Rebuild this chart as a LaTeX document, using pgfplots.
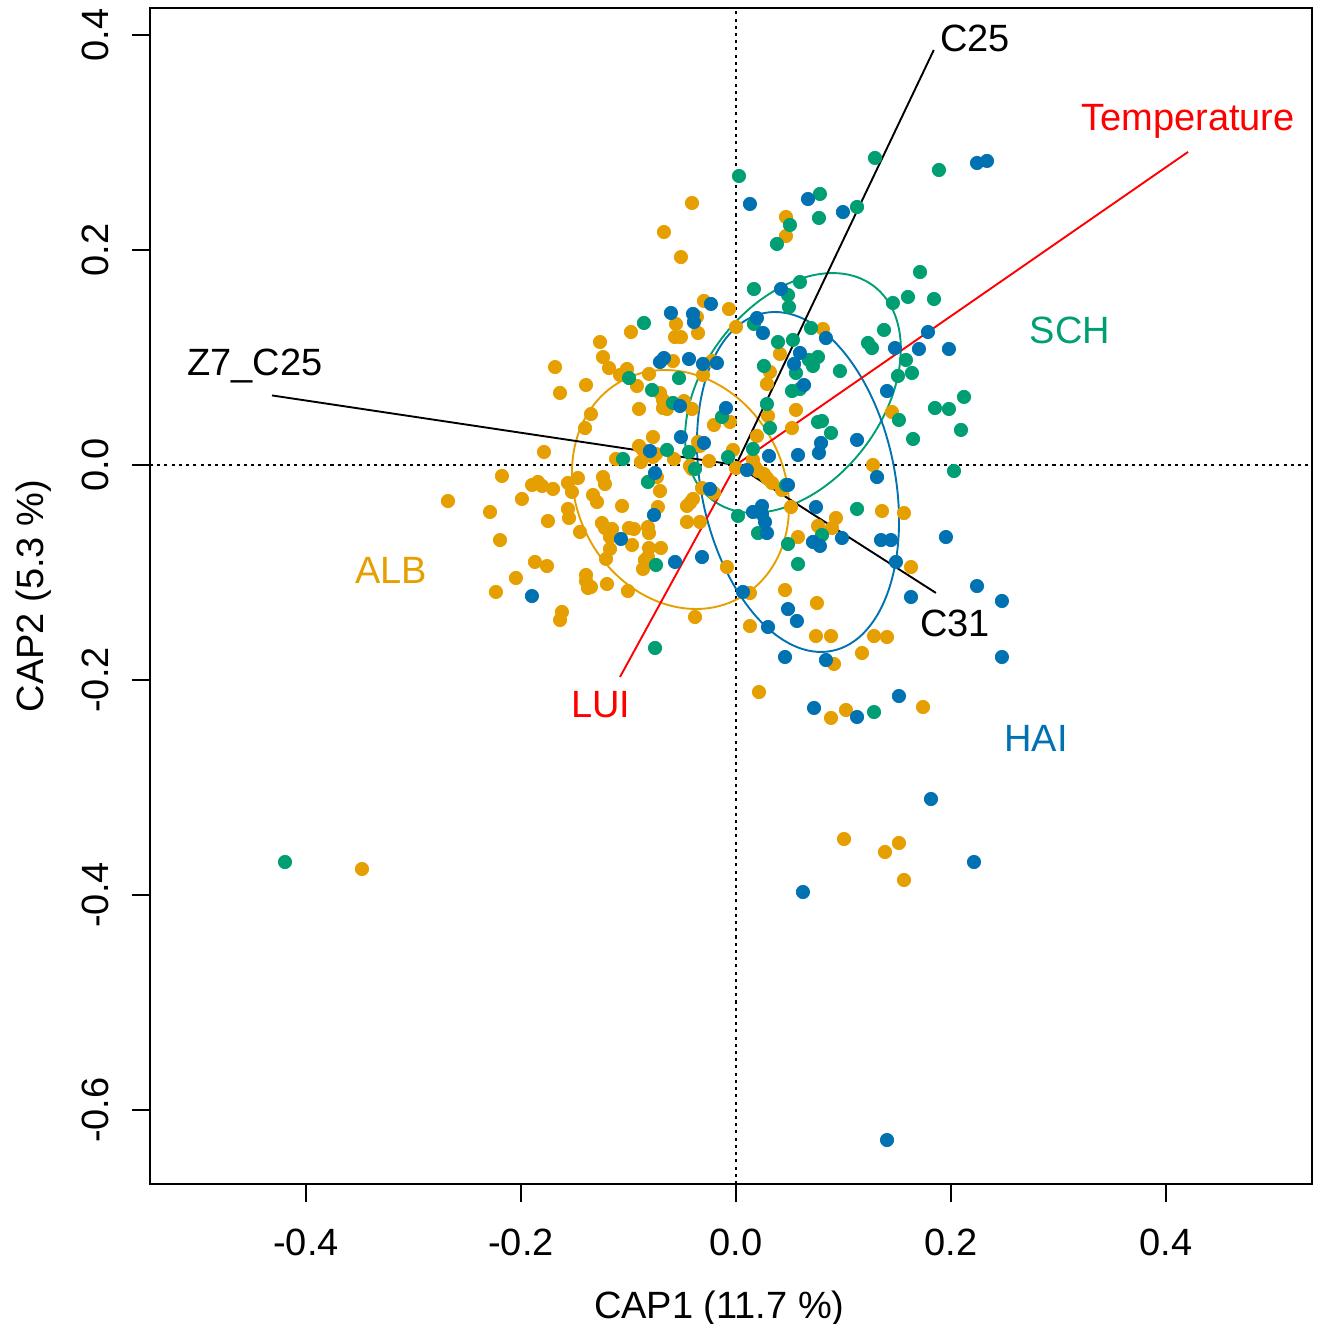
\documentclass[border=0pt]{standalone}
\usepackage{fontspec}
\setmainfont{Liberation Sans}
\usepackage{pgfplots}
\usepackage{pgfplotstable}
\pgfplotsset{compat=1.18}
\definecolor{alb}{HTML}{E69F00}
\definecolor{sch}{HTML}{009E73}
\definecolor{hai}{HTML}{0072B2}
\definecolor{rd}{HTML}{FF0000}

\pgfplotstableread{
x y
-0.1265 0.1144
-0.0977 0.1237
-0.1237 0.1004
-0.1683 0.0911
-0.1181 0.0902
-0.1079 0.0837
-0.1014 0.0893
-0.1395 0.0744
-0.1637 0.0670
-0.1349 0.0474
-0.1404 0.0344
-0.1786 0.0121
-0.1116 0.0056
-0.2177 -0.0102
-0.1897 -0.0186
-0.1842 -0.0158
-0.1804 -0.0195
-0.1702 -0.0223
-0.1563 -0.0167
-0.1470 -0.0121
-0.1237 -0.0112
-0.1219 -0.0177
-0.1526 -0.0251
-0.2679 -0.0335
-0.1991 -0.0316
-0.1330 -0.0279
-0.1293 -0.0344
-0.1060 -0.0381
-0.2288 -0.0437
-0.1563 -0.0409
-0.1553 -0.0493
-0.1749 -0.0521
-0.1247 -0.0540
-0.1219 -0.0586
-0.1153 -0.0595
-0.1451 -0.0623
-0.2195 -0.0698
-0.1172 -0.0670
-0.0995 -0.0586
-0.0409 0.2437
-0.0670 0.2167
-0.0512 0.1934
0.0465 0.2307
0.0465 0.2130
-0.0298 0.1526
-0.0065 0.1451
-0.0363 0.1377
-0.0558 0.1312
-0.0567 0.1190
-0.0512 0.1190
-0.0353 0.1228
0.0000 0.1284
0.0809 0.1265
0.0409 0.1033
-0.0586 0.0967
-0.0223 0.0967
0.0316 0.0865
-0.0809 0.0847
-0.0307 0.0837
-0.0921 0.0735
0.0288 0.0754
-0.0707 0.0670
-0.0679 0.0605
-0.0484 0.0595
-0.0679 0.0530
-0.0642 0.0521
-0.0902 0.0521
-0.0409 0.0521
0.0558 0.0512
-0.0056 0.0400
0.0298 0.0456
-0.0205 0.0372
0.0521 0.0344
-0.0772 0.0260
0.0195 0.0270
-0.0353 0.0214
-0.0335 0.0177
-0.0902 0.0177
-0.0865 0.0140
-0.0028 0.0140
-0.0772 0.0074
-0.0744 0.0102
-0.0577 0.0056
-0.0251 0.0037
-0.0884 0.0028
-0.0428 -0.0009
-0.0409 -0.0037
0.0000 -0.0028
0.0158 0.0047
0.0177 -0.0019
0.0205 -0.0056
0.0260 -0.0084
0.0288 -0.0121
0.0335 -0.0167
-0.0735 -0.0112
-0.0707 -0.0242
-0.0316 -0.0214
-0.0205 -0.0260
0.0428 -0.0233
-0.0400 -0.0316
-0.0428 -0.0353
-0.0726 -0.0391
-0.0456 -0.0381
0.0512 -0.0391
-0.0456 -0.0530
-0.0335 -0.0530
-0.0949 -0.0595
-0.0819 -0.0577
-0.0809 -0.0633
0.0763 -0.0567
0.1451 0.0493
0.1274 0.0000
0.1358 -0.0428
0.1563 -0.0447
0.0930 -0.0493
0.0893 -0.0586
-0.1172 -0.0781
-0.1209 -0.0874
-0.1870 -0.0902
-0.1758 -0.0940
-0.2047 -0.1051
-0.1395 -0.1023
-0.1395 -0.1079
-0.1377 -0.1144
-0.1349 -0.1135
-0.1200 -0.1107
-0.1005 -0.1172
-0.2233 -0.1181
-0.1619 -0.1367
-0.1637 -0.1442
-0.0967 -0.0744
-0.0809 -0.0772
-0.0698 -0.0772
-0.0819 -0.0856
-0.0847 -0.0884
-0.0865 -0.0967
-0.0084 -0.0949
0.0130 -0.1191
-0.0381 -0.1414
0.0130 -0.1498
0.0456 -0.1163
0.0753 -0.1284
0.0744 -0.1591
0.0214 -0.2112
0.0577 -0.0670
0.1628 -0.0949
0.0884 -0.1591
0.1284 -0.1591
0.1405 -0.1600
0.1172 -0.1749
0.0912 -0.1851
0.1740 -0.2251
0.0884 -0.2353
0.1023 -0.2279
0.1005 -0.3479
0.1516 -0.3516
0.1386 -0.3600
0.1563 -0.3860
-0.3479 -0.3758
}\albtable

\pgfplotstableread{
x y
0.0028 0.2688
0.0502 0.2233
0.0381 0.2056
0.0595 0.1702
0.0167 0.1637
0.0484 0.1581
0.0493 0.1470
-0.0856 0.1321
0.0167 0.1312
0.0698 0.1274
0.0391 0.1144
0.0530 0.1163
0.1293 0.2856
0.1888 0.2744
0.0781 0.2521
0.0772 0.2298
0.1126 0.2400
0.1712 0.1795
0.1600 0.1563
0.1842 0.1544
0.1460 0.1507
0.1377 0.1256
0.1228 0.1135
0.1265 0.1088
-0.0995 0.0809
-0.1051 0.0056
0.0763 0.1005
0.0679 0.0977
0.0716 0.0921
0.0260 0.0921
0.0558 0.0856
-0.0530 0.0809
0.0521 0.0688
0.0595 0.0707
-0.0781 0.0698
-0.0586 0.0577
0.0288 0.0567
-0.0130 0.0447
0.0316 0.0344
0.0763 0.0400
-0.0642 0.0140
-0.0437 0.0121
0.0158 0.0149
-0.0074 0.0074
-0.0381 -0.0037
-0.0819 -0.0158
0.0465 -0.0186
0.0019 -0.0474
0.0205 -0.0633
0.1581 0.0977
0.0967 0.0874
0.1507 0.0828
0.1637 0.0856
0.2121 0.0633
0.1851 0.0530
0.1981 0.0521
0.1516 0.0419
0.0800 0.0409
0.0884 0.0298
0.2093 0.0326
0.1647 0.0242
0.2028 -0.0056
0.1126 -0.0409
0.0800 -0.0651
-0.0744 -0.0930
-0.0753 -0.1702
0.0484 -0.0735
0.0577 -0.0921
0.1284 -0.2298
-0.4195 -0.3693
}\schtable

\pgfplotstableread{
x y
0.0130 0.2428
0.0670 0.2474
0.0419 0.1637
-0.0233 0.1498
-0.0605 0.1414
-0.0400 0.1405
-0.0391 0.1330
0.0195 0.1367
0.0251 0.1228
0.2242 0.2809
0.2335 0.2828
0.0995 0.2353
0.0837 0.1181
0.1786 0.1237
0.1479 0.1088
0.1702 0.1079
0.1981 0.1079
-0.1070 -0.0688
0.0595 0.1042
-0.0707 0.0958
-0.0670 0.0995
-0.0437 0.0986
-0.0307 0.0940
-0.0177 0.0949
0.0540 0.0940
0.0633 0.0744
-0.0521 0.0549
-0.0093 0.0530
-0.0512 0.0260
-0.0298 0.0205
-0.0800 0.0130
0.0307 0.0084
0.0577 0.0093
0.0772 0.0112
0.0102 -0.0047
-0.0753 -0.0074
-0.0242 -0.0223
0.0484 -0.0186
0.0242 -0.0381
0.0744 -0.0391
0.0158 -0.0437
0.0242 -0.0456
-0.0763 -0.0465
0.0270 -0.0530
0.0288 -0.0633
0.1405 0.0688
0.0791 0.0205
0.1126 0.0233
0.1312 -0.0112
0.1349 -0.0698
0.1442 -0.0698
0.1953 -0.0670
-0.1898 -0.1219
-0.0567 -0.0902
-0.0316 -0.0856
0.0065 -0.1181
0.0298 -0.1507
0.0484 -0.1340
0.0567 -0.1451
0.0456 -0.1786
0.0726 -0.2260
0.0716 -0.0716
0.0781 -0.0753
0.0986 -0.0679
0.1488 -0.0902
0.2242 -0.1126
0.1628 -0.1228
0.2474 -0.1265
0.0837 -0.1814
0.2474 -0.1786
0.1516 -0.2149
0.1126 -0.2344
0.1814 -0.3107
0.2214 -0.3693
0.0623 -0.3972
0.1405 -0.6279
}\haitable

\begin{document}
\begin{tikzpicture}
\begin{axis}[
  scale only axis, width=305.79pt, height=309.47pt,
  xmin=-0.5451, xmax=0.5358, ymin=-0.6688, ymax=0.4251,
  axis line style={line width=0.5pt, black},
  tick align=outside, tick pos=left, major tick length=4.74pt,
  tick style={line width=0.5pt, black},
  xtick={-0.4,-0.2,0,0.2,0.4}, xticklabels={-0.4,-0.2,0.0,0.2,0.4},
  ytick={-0.6,-0.4,-0.2,0,0.2,0.4}, yticklabels={-0.6,-0.4,-0.2,0.0,0.2,0.4},
  xticklabel style={font=\fontsize{10}{12}\selectfont, anchor=north, inner sep=0pt},
  xticklabel shift=6.84pt,
  yticklabel style={font=\fontsize{10}{12}\selectfont, rotate=90, anchor=south, inner sep=0pt},
  yticklabel shift=5.79pt,
  clip=false,
]
\addplot[black, line width=0.5pt, dash pattern=on 0.8pt off 1.1pt] coordinates {(-0.5451,0) (0.5358,0)};
\addplot[black, line width=0.5pt, dash pattern=on 0.8pt off 1.1pt] coordinates {(0,-0.6688) (0,0.4251)};

\addplot[only marks, mark=*, mark size=1.75pt, mark options={fill=alb, draw=alb, line width=0.2pt}] table[x=x,y=y] {\albtable};
\addplot[only marks, mark=*, mark size=1.75pt, mark options={fill=sch, draw=sch, line width=0.2pt}] table[x=x,y=y] {\schtable};
\addplot[only marks, mark=*, mark size=1.75pt, mark options={fill=hai, draw=hai, line width=0.2pt}] table[x=x,y=y] {\haitable};

\draw[alb, line width=0.5pt, rotate around={28:(axis cs:-0.0516,-0.0228)}] (axis cs:-0.0516,-0.0228) ellipse [x radius=27.34pt, y radius=32.50pt];
\draw[sch, line width=0.5pt, rotate around={-37:(axis cs:0.0530,0.0670)}] (axis cs:0.0530,0.0670) ellipse [x radius=23.61pt, y radius=35.26pt];
\draw[hai, line width=0.5pt, rotate around={11.4:(axis cs:0.0577,-0.0158)}] (axis cs:0.0577,-0.0158) ellipse [x radius=25.53pt, y radius=45.34pt];

\addplot[black, line width=0.5pt] coordinates {(0,0) (0.1840,0.3860)};
\addplot[black, line width=0.5pt] coordinates {(0,0) (-0.4316,0.0647)};
\addplot[black, line width=0.5pt] coordinates {(0,0) (0.1860,-0.1190)};
\addplot[rd, line width=0.5pt] coordinates {(0,0) (0.4205,0.2912)};
\addplot[rd, line width=0.5pt] coordinates {(0,0) (-0.1079,-0.1972)};

\node[font=\fontsize{10}{12}\selectfont, inner sep=0pt] at (axis cs:0.2223,0.3972) {C25};
\node[font=\fontsize{10}{12}\selectfont, inner sep=0pt, text=rd] at (axis cs:0.4205,0.3200) {Temperature};
\node[font=\fontsize{10}{12}\selectfont, inner sep=0pt] at (axis cs:-0.4474,0.0925) {Z7\_C25};
\node[font=\fontsize{10}{12}\selectfont, inner sep=0pt] at (axis cs:0.2037,-0.1470) {C31};
\node[font=\fontsize{10}{12}\selectfont, inner sep=0pt, text=rd] at (axis cs:-0.1256,-0.2233) {LUI};
\node[font=\fontsize{10}{12}\selectfont, inner sep=0pt, text=sch] at (axis cs:0.3107,0.1256) {SCH};
\node[font=\fontsize{10}{12}\selectfont, inner sep=0pt, text=alb] at (axis cs:-0.3209,-0.0977) {ALB};
\node[font=\fontsize{10}{12}\selectfont, inner sep=0pt, text=hai] at (axis cs:0.2791,-0.2540) {HAI};

\node[font=\fontsize{10}{12}\selectfont, inner sep=0pt, anchor=base] at ([yshift=-35.5pt]axis description cs:0.49,0) {CAP1 (11.7 \%)};
\node[font=\fontsize{10}{12}\selectfont, inner sep=0pt, anchor=base, rotate=90] at ([xshift=-27.9pt]axis description cs:0,0.5) {CAP2 (5.3 \%)};
\end{axis}
\pgfresetboundingbox
\path ([shift={(-39.47pt,-36.84pt)}]current axis.south west) rectangle ([shift={(1.32pt,2.1pt)}]current axis.north east);
\end{tikzpicture}
\end{document}
